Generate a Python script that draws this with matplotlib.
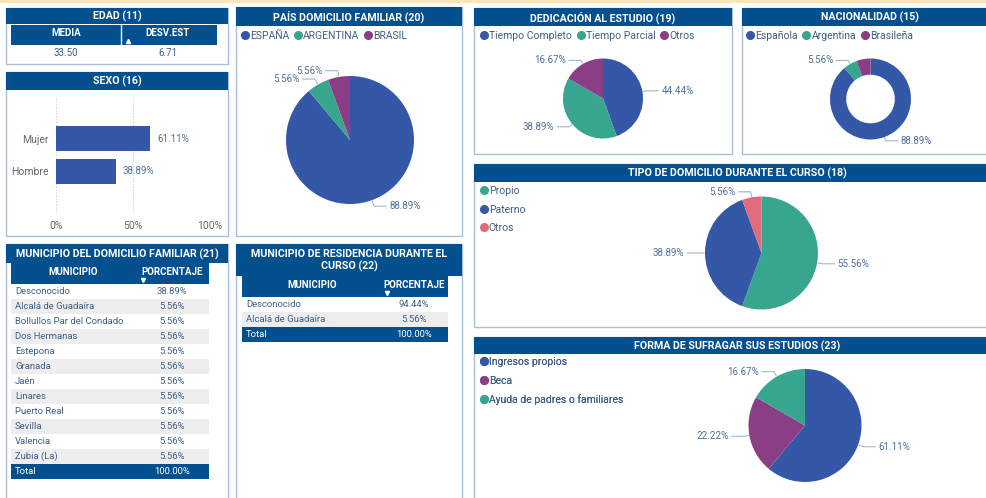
import matplotlib
matplotlib.use("Agg")
from matplotlib import pyplot as plt, patches
from matplotlib.lines import Line2D
import numpy as np

plt.rcParams['font.family'] = ['Roboto', 'DejaVu Sans']

W, H = 986, 498
NAVY = '#04508f'
BLUE = '#3457a8'
TEAL = '#38a68f'
PURPLE = '#8a3e86'
PINK = '#df6b7c'
BORDER = '#a9c0da'
LABEL = '#4e6e96'
TXT = '#3f5f88'
SHADE = '#ededed'
LEADER = '#a3b6cc'

# ---- data ----
edad_cols = ['MEDIA', 'DESV.EST']
edad_vals = [33.50, 6.71]

sexo_cats = ['Hombre', 'Mujer']
sexo_pct = [38.89, 61.11]

pais_cats = ['ESPAÑA', 'ARGENTINA', 'BRASIL']
pais_pct = [88.89, 5.56, 5.56]

ded_cats = ['Tiempo Completo', 'Tiempo Parcial', 'Otros']
ded_pct = [44.44, 38.89, 16.67]

nac_cats = ['Española', 'Argentina', 'Brasileña']
nac_pct = [88.89, 5.56, 5.56]

tipo_cats = ['Propio', 'Paterno', 'Otros']
tipo_pct = [55.56, 38.89, 5.56]

forma_cats = ['Ingresos propios', 'Beca', 'Ayuda de padres o familiares']
forma_pct = [61.11, 22.22, 16.67]

fam_mun = ['Desconocido', 'Alcalá de Guadaíra', 'Bollullos Par del Condado', 'Dos Hermanas',
           'Estepona', 'Granada', 'Jaén', 'Linares', 'Puerto Real', 'Sevilla', 'Valencia', 'Zubia (La)']
fam_pct = [38.89, 5.56, 5.56, 5.56, 5.56, 5.56, 5.56, 5.56, 5.56, 5.56, 5.56, 5.56]
fam_total = 100.00

res_mun = ['Desconocido', 'Alcalá de Guadaíra']
res_pct = [94.44, 5.56]
res_total = 100.00

fig = plt.figure(figsize=(W / 100, H / 100), dpi=100)
bg = fig.add_axes([0, 0, 1, 1])
bg.set_xlim(0, W)
bg.set_ylim(H, 0)
bg.axis('off')

bg.add_patch(patches.Rectangle((0, 0), W, 3, fc='#fde4b5', ec='none'))


def px_axes(x0, y0, w, h):
    return fig.add_axes([x0 / W, 1 - (y0 + h) / H, w / W, h / H])


def panel(x0, y0, x1, y1, title, th):
    bg.add_patch(patches.Rectangle((x0, y0), x1 - x0, y1 - y0, fill=False, ec=BORDER, lw=1))
    bg.add_patch(patches.Rectangle((x0, y0), x1 - x0, th, fc=NAVY, ec='none'))
    bg.text((x0 + x1) / 2, y0 + th / 2 + 0.5, title, color='white', ha='center', va='center',
            fontsize=7.7, weight='semibold', linespacing=1.3)


def legend(cats, colors, x, y, ncol):
    handles = [Line2D([], [], ls='', marker='o', ms=5.5, color=c) for c in colors]
    lg = bg.legend(handles, cats, loc='upper left', bbox_to_anchor=(x, y), bbox_transform=bg.transData,
                   ncol=ncol, frameon=False, fontsize=7.5, handlelength=0.7, handletextpad=0.15,
                   columnspacing=0.5, borderpad=0, borderaxespad=0, labelspacing=0.82, labelcolor=TXT)
    bg.add_artist(lg)


def pie(cx, cy, r, values, colors, hide=(), donut=False):
    ax = px_axes(cx - r, cy - r, 2 * r, 2 * r)
    wp = dict(linewidth=0)
    if donut:
        wp['width'] = 0.4
    wedges, _ = ax.pie(values, colors=colors, startangle=90, counterclock=False, wedgeprops=wp)
    ax.set_xlim(-1, 1)
    ax.set_ylim(-1, 1)
    for i, (w, v) in enumerate(zip(wedges, values)):
        if i in hide:
            continue
        a = np.deg2rad((w.theta1 + w.theta2) / 2)
        c, s = np.cos(a), np.sin(a)
        x1, y1 = 1.1 * c, 1.1 * s
        d = 1 if c >= 0 else -1
        x2 = x1 + d * 12 / r
        ax.plot([1.02 * c, x1, x2], [1.02 * s, y1, y1], color=LEADER, lw=0.8, clip_on=False)
        ax.text(x2 + d * 3 / r, y1, f'{v:.2f}%', ha='left' if d > 0 else 'right', va='center',
                fontsize=7, color=LABEL, clip_on=False)


def table(x0, x1, yh, c1, c2, arrow_x, names, pcts, total, hh=21, rh=15):
    bg.add_patch(patches.Rectangle((x0, yh), x1 - x0, hh, fc=NAVY, ec='none'))
    bg.text(c1, yh + 9, 'MUNICIPIO', color='white', ha='center', va='center', fontsize=7, weight='bold')
    bg.text(c2, yh + 9, 'PORCENTAJE', color='white', ha='center', va='center', fontsize=7, weight='bold')
    bg.plot(arrow_x, yh + hh - 4, marker='v', ms=3, color='white')
    y = yh + hh
    for i, (n, p) in enumerate(zip(names, pcts)):
        if i % 2 == 1:
            bg.add_patch(patches.Rectangle((x0, y), x1 - x0, rh, fc=SHADE, ec='none'))
        bg.text(x0 + 4, y + rh / 2, n, color=TXT, ha='left', va='center', fontsize=6.8)
        bg.text(c2, y + rh / 2, f'{p:.2f}%', color=TXT, ha='center', va='center', fontsize=6.8)
        y += rh
    bg.add_patch(patches.Rectangle((x0, y), x1 - x0, rh, fc=NAVY, ec='none'))
    bg.text(x0 + 4, y + rh / 2, 'Total', color='white', ha='left', va='center', fontsize=6.8)
    bg.text(c2, y + rh / 2, f'{total:.2f}%', color='white', ha='center', va='center', fontsize=6.8)


# ---- EDAD ----
panel(6, 8, 228, 64, 'EDAD (11)', 16)
bg.add_patch(patches.Rectangle((11, 25), 206, 20, fc=NAVY, ec='none'))
bg.plot([121, 121], [25, 45], color='white', lw=1)
for cx, col, val in zip([66, 168], edad_cols, edad_vals):
    bg.text(cx, 33, col, color='white', ha='center', va='center', fontsize=7, weight='bold')
    bg.text(cx, 53, f'{val:.2f}', color=TXT, ha='center', va='center', fontsize=7)
bg.plot(128, 41, marker='^', ms=3, color='white')

# ---- SEXO ----
panel(6, 72, 228, 236, 'SEXO (16)', 18)
ax = px_axes(56, 96, 154, 118)
ax.barh(range(len(sexo_cats)), sexo_pct, height=0.77, color=BLUE)
for i, v in enumerate(sexo_pct):
    ax.annotate(f'{v:.2f}%', (v, i), xytext=(5, 0), textcoords='offset points', va='center',
                fontsize=7, color=LABEL)
ax.set_xlim(0, 100)
ax.set_ylim(-1.32, 2.31)
ax.set_xticks([0, 50, 100])
ax.set_xticklabels(['0%', '50%', '100%'])
ax.set_yticks(range(len(sexo_cats)))
ax.set_yticklabels(sexo_cats)
ax.tick_params(length=0, labelsize=7.5, labelcolor='#666666')
ax.tick_params(axis='x', pad=5)
ax.tick_params(axis='y', pad=5)
ax.grid(axis='x', ls=':', color='#c8c8c8', lw=0.8)
ax.set_axisbelow(True)
for sp in ax.spines.values():
    sp.set_visible(False)

# ---- PAIS ----
panel(236, 7, 462, 236, 'PAÍS DOMICILIO FAMILIAR (20)', 19)
legend(pais_cats, [BLUE, TEAL, PURPLE], 241, 31, 3)
pie(350, 140, 64, pais_pct, [BLUE, TEAL, PURPLE])

# ---- DEDICACION ----
panel(474, 8, 732, 154, 'DEDICACIÓN AL ESTUDIO (19)', 18)
legend(ded_cats, [BLUE, TEAL, PURPLE], 480, 31, 3)
pie(603, 98.5, 40, ded_pct, [BLUE, TEAL, PURPLE])

# ---- NACIONALIDAD ----
panel(742, 8, 998, 154, 'NACIONALIDAD (15)', 18)
legend(nac_cats, [BLUE, TEAL, PURPLE], 746, 31, 3)
pie(870.5, 99, 40.5, nac_pct, [BLUE, TEAL, PURPLE], hide=(2,), donut=True)

# ---- TIPO DE DOMICILIO ----
panel(474, 164, 1000, 327, 'TIPO DE DOMICILIO DURANTE EL CURSO (18)', 18)
legend(tipo_cats, [TEAL, BLUE, PINK], 480, 186, 1)
pie(761.5, 253, 56.5, tipo_pct, [TEAL, BLUE, PINK])

# ---- FORMA DE SUFRAGAR ----
panel(474, 337, 1000, 510, 'FORMA DE SUFRAGAR SUS ESTUDIOS (23)', 17)
legend(forma_cats, [BLUE, PURPLE, TEAL], 480, 357, 1)
pie(805, 425.5, 56.5, forma_pct, [BLUE, PURPLE, TEAL])

# ---- MUNICIPIO DEL DOMICILIO FAMILIAR ----
panel(6, 244, 228, 510, 'MUNICIPIO DEL DOMICILIO FAMILIAR (21)', 19)
table(11, 209, 263, 73, 172, 143, fam_mun, fam_pct, fam_total)

# ---- MUNICIPIO DE RESIDENCIA ----
panel(236, 244, 462, 510, 'MUNICIPIO DE RESIDENCIA DURANTE EL\nCURSO (22)', 32)
table(242, 448, 276, 312, 414, 387, res_mun, res_pct, res_total)

fig.savefig('out.png', dpi=100)
